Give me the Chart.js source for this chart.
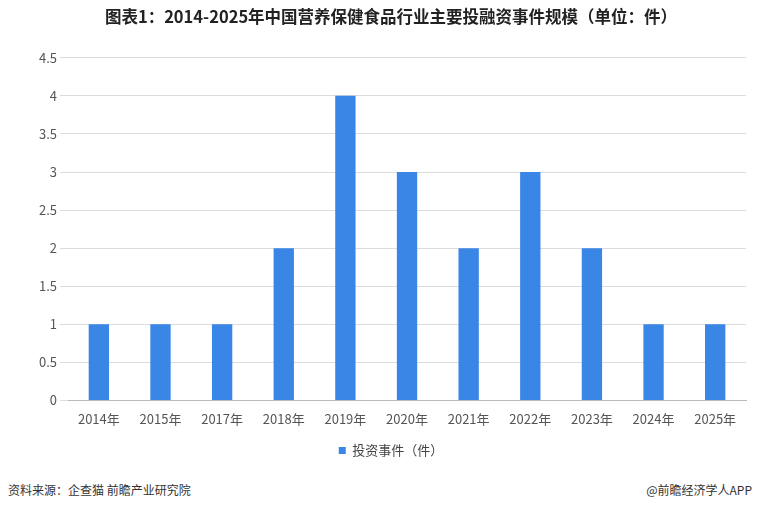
<!DOCTYPE html>
<html><head><meta charset="utf-8">
<script src="https://cdn.jsdelivr.net/npm/chart.js@4"></script>
<style>
body{margin:0;background:#fff;font-family:"Noto Sans CJK SC",sans-serif;}
#wrap{position:absolute;left:0;top:0;width:760px;height:467px;}
.foot{position:absolute;top:481px;font-size:12px;color:#333;}
</style></head><body>
<div id="wrap"><canvas id="c"></canvas></div>
<div class="foot" style="left:8px">资料来源：企查猫 前瞻产业研究院</div>
<div class="foot" style="right:8px">@前瞻经济学人APP</div>
<script>
const categories = ["2014年","2015年","2017年","2018年","2019年","2020年","2021年","2022年","2023年","2024年","2025年"];
const investEvents = [1,1,1,2,4,3,2,3,2,1,1];
const seriesName = "投资事件（件）";
const titleText = "图表1：2014-2025年中国营养保健食品行业主要投融资事件规模（单位：件）";

new Chart(document.getElementById("c"), {
  type: "bar",
  data: {
    labels: categories,
    datasets: [{
      label: seriesName,
      data: investEvents,
      backgroundColor: "#3a86e6",
      barPercentage: 0.6,
      categoryPercentage: 0.55
    }]
  },
  options: {
    responsive: true,
    maintainAspectRatio: false,
    animation: false,
    layout: { padding: { left: 36, right: 14, top: 0, bottom: 0 } },
    plugins: {
      title: {
        display: true, text: titleText, color: "#222",
        font: { size: 16.5, weight: "bold", family: "Noto Sans CJK SC" },
        padding: { top: 7, bottom: 31 }
      },
      legend: {
        position: "bottom",
        labels: { boxWidth: 7, boxHeight: 7, color: "#444", font: { size: 13, family: "Noto Sans CJK SC" }, padding: 14 }
      },
      tooltip: { enabled: false }
    },
    scales: {
      x: {
        grid: { display: false },
        border: { color: "#bbb" },
        ticks: { color: "#555", font: { size: 13, family: "Noto Sans CJK SC" } }
      },
      y: {
        min: 0, max: 4.5,
        ticks: { stepSize: 0.5, color: "#555", font: { size: 13, family: "Noto Sans CJK SC" },
          callback: v => String(v) },
        grid: { color: "#dcdcdc" },
        border: { display: false }
      }
    }
  }
});
</script>
</body></html>
